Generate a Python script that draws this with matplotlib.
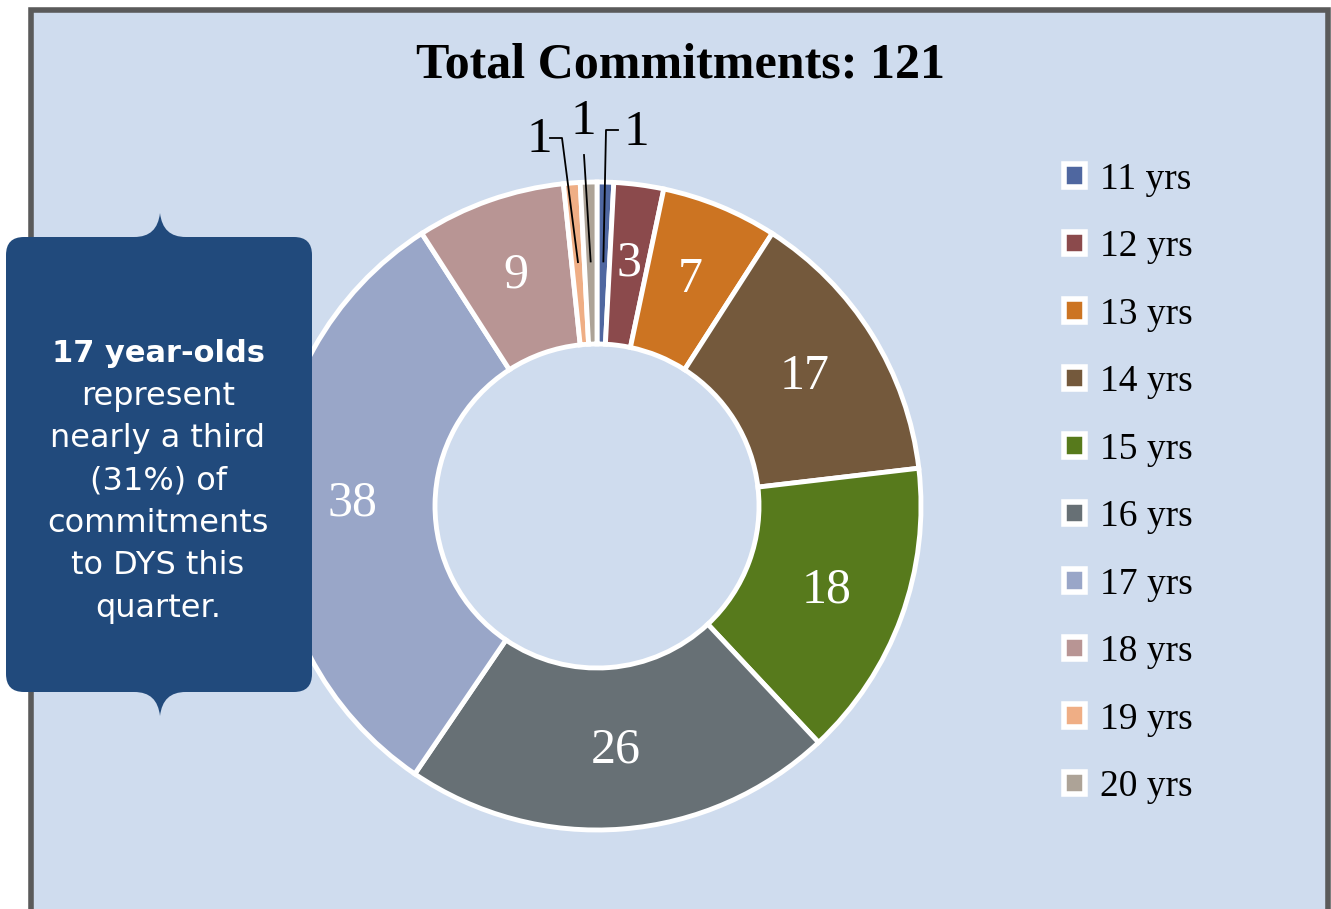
import numpy as np
import matplotlib.pyplot as plt
from matplotlib.patches import Rectangle, FancyBboxPatch, PathPatch, Patch
from matplotlib.path import Path

# data
ages = ["11 yrs", "12 yrs", "13 yrs", "14 yrs", "15 yrs",
        "16 yrs", "17 yrs", "18 yrs", "19 yrs", "20 yrs"]
counts = [1, 3, 7, 17, 18, 26, 38, 9, 1, 1]
colors = ["#4F67A0", "#8B4A4C", "#CC7422", "#74593C", "#577A1C",
          "#677075", "#99A6C8", "#B89594", "#EFAE85", "#ADA397"]
title = "Total Commitments: %d" % sum(counts)

W, H = 1331, 909
bg = "#CFDCEE"
serif = "Liberation Serif"

fig = plt.figure(figsize=(W / 100, H / 100), dpi=100)
ax = fig.add_axes([0, 0, 1, 1])

# pixel helper (y from top)
def P(x, y):
    return x, H - y

cx, cy = P(597, 506)
R = 324

# frame
ax.add_patch(Rectangle(P(31, 960), 1297, 950, facecolor=bg, edgecolor="#5A5A5A",
                       linewidth=4, zorder=0))

wedges, _ = ax.pie(counts, colors=colors, startangle=90, counterclock=False,
                   center=(cx, cy), radius=R,
                   wedgeprops=dict(width=R * 0.5, edgecolor="white", linewidth=3.5))

# labels
small = {0: ((606, 130), (618, 130), (636, 133)),
         8: ((562, 138), (550, 138), (539, 140)),
         9: ((584, 155), (584, 155), (583, 122))}
for i, w in enumerate(wedges):
    ang = np.deg2rad((w.theta1 + w.theta2) / 2)
    lx = cx + 0.755 * R * np.cos(ang)
    ly = cy + 0.755 * R * np.sin(ang)
    if i in small:
        (ex, ey), (hx, hy), (tx, ty) = small[i]
        xs = [lx, P(ex, ey)[0], P(hx, hy)[0]]
        ys = [ly, P(ex, ey)[1], P(hx, hy)[1]]
        ax.plot(xs, ys, color="black", lw=1.3, zorder=5)
        ax.text(*P(tx, ty), str(counts[i]), ha="center", va="center",
                fontsize=37, family=serif, color="black")
    else:
        ax.text(lx, ly, str(counts[i]), ha="center", va="center",
                fontsize=36, family=serif, color="white")

ax.text(*P(681, 66), title, ha="center", va="center", fontsize=36,
        fontweight="bold", family=serif)

handles = [Patch(facecolor=c, edgecolor="white", linewidth=4) for c in colors]
leg = ax.legend(handles, ages, loc="upper left",
                bbox_to_anchor=(1038 / W, 1 - 136 / H), frameon=False,
                prop=dict(family=serif, size=27), handlelength=0.55,
                handleheight=0.55, handletextpad=0.4, labelspacing=0.88,
                borderpad=0.2)

# callout box
box_c = "#214A7C"
ax.add_patch(FancyBboxPatch(P(6, 692), 306, 455,
                            boxstyle="round,pad=0,rounding_size=18",
                            facecolor=box_c, edgecolor="none", zorder=6))
for yb, sgn in [(237, -1), (692, 1)]:
    verts = [P(134, yb), P(150, yb), P(158, yb + sgn * 8), P(160, yb + sgn * 24),
             P(162, yb + sgn * 8), P(170, yb), P(186, yb), P(186, yb - sgn * 4),
             P(134, yb - sgn * 4), P(134, yb)]
    codes = [Path.MOVETO, Path.CURVE4, Path.CURVE4, Path.CURVE4,
             Path.CURVE4, Path.CURVE4, Path.CURVE4, Path.LINETO,
             Path.LINETO, Path.CLOSEPOLY]
    ax.add_patch(PathPatch(Path(verts, codes), facecolor=box_c,
                           edgecolor="none", zorder=6))

lines = ["represent", "nearly a third", "(31%) of", "commitments",
         "to DYS this", "quarter."]
ax.text(*P(158, 353), "17 year-olds", ha="center", va="center", fontsize=22,
        fontweight="bold", color="white", family="DejaVu Sans", zorder=7)
for k, s in enumerate(lines):
    ax.text(*P(158, 396 + k * 42.5), s, ha="center", va="center", fontsize=23,
            color="white", family="DejaVu Sans", zorder=7)

ax.set_xlim(0, W)
ax.set_ylim(0, H)
ax.set_aspect("auto")
ax.axis("off")
fig.savefig("out.png", dpi=100, facecolor="white")
